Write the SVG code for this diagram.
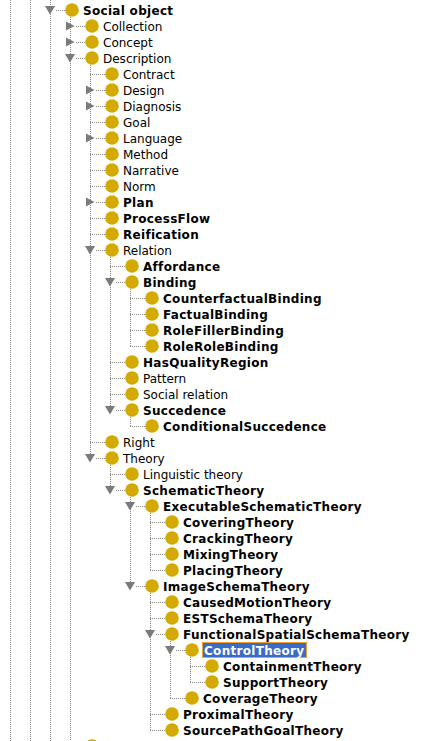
<svg xmlns="http://www.w3.org/2000/svg" width="422" height="741" viewBox="0 0 422 741">
<style>
  .bg{fill:#ffffff}
  .dot{stroke:#8a8a8a;stroke-width:1;stroke-dasharray:1 1;fill:none}
  .tri{fill:#7a7a7a}
  circle{fill:#d4a900}
  text{font-family:"DejaVu Sans","Noto Sans",sans-serif;font-size:12px;fill:#000}
  .b{font-weight:bold;letter-spacing:0.3px}
  .sel{fill:#3a6bc6;stroke:#f0a030;stroke-width:1}
  .selt{fill:#ffffff}
</style>
<rect class="bg" x="0" y="0" width="422" height="741"/>
<g id="connectors">
  <line class="dot" x1="10.5" y1="0" x2="10.5" y2="741"/>
  <line class="dot" x1="30.5" y1="0" x2="30.5" y2="741"/>
  <line class="dot" x1="50.5" y1="0" x2="50.5" y2="741"/>
  <line class="dot" x1="70.5" y1="15" x2="70.5" y2="741"/>
  <line class="dot" x1="90.5" y1="63" x2="90.5" y2="458"/>
  <line class="dot" x1="110.5" y1="255" x2="110.5" y2="410"/>
  <line class="dot" x1="130.5" y1="287" x2="130.5" y2="346"/>
  <line class="dot" x1="130.5" y1="415" x2="130.5" y2="426"/>
  <line class="dot" x1="110.5" y1="463" x2="110.5" y2="490"/>
  <line class="dot" x1="130.5" y1="495" x2="130.5" y2="586"/>
  <line class="dot" x1="150.5" y1="511" x2="150.5" y2="570"/>
  <line class="dot" x1="150.5" y1="591" x2="150.5" y2="730"/>
  <line class="dot" x1="170.5" y1="639" x2="170.5" y2="698"/>
  <line class="dot" x1="190.5" y1="655" x2="190.5" y2="682"/>
  <line class="dot" x1="56" y1="10.5" x2="65" y2="10.5"/>
  <line class="dot" x1="76" y1="26.5" x2="85" y2="26.5"/>
  <line class="dot" x1="76" y1="42.5" x2="85" y2="42.5"/>
  <line class="dot" x1="76" y1="58.5" x2="85" y2="58.5"/>
  <line class="dot" x1="90" y1="74.5" x2="105" y2="74.5"/>
  <line class="dot" x1="96" y1="90.5" x2="105" y2="90.5"/>
  <line class="dot" x1="96" y1="106.5" x2="105" y2="106.5"/>
  <line class="dot" x1="90" y1="122.5" x2="105" y2="122.5"/>
  <line class="dot" x1="96" y1="138.5" x2="105" y2="138.5"/>
  <line class="dot" x1="90" y1="154.5" x2="105" y2="154.5"/>
  <line class="dot" x1="90" y1="170.5" x2="105" y2="170.5"/>
  <line class="dot" x1="90" y1="186.5" x2="105" y2="186.5"/>
  <line class="dot" x1="96" y1="202.5" x2="105" y2="202.5"/>
  <line class="dot" x1="90" y1="218.5" x2="105" y2="218.5"/>
  <line class="dot" x1="90" y1="234.5" x2="105" y2="234.5"/>
  <line class="dot" x1="96" y1="250.5" x2="105" y2="250.5"/>
  <line class="dot" x1="110" y1="266.5" x2="125" y2="266.5"/>
  <line class="dot" x1="116" y1="282.5" x2="125" y2="282.5"/>
  <line class="dot" x1="130" y1="298.5" x2="145" y2="298.5"/>
  <line class="dot" x1="130" y1="314.5" x2="145" y2="314.5"/>
  <line class="dot" x1="130" y1="330.5" x2="145" y2="330.5"/>
  <line class="dot" x1="130" y1="346.5" x2="145" y2="346.5"/>
  <line class="dot" x1="110" y1="362.5" x2="125" y2="362.5"/>
  <line class="dot" x1="110" y1="378.5" x2="125" y2="378.5"/>
  <line class="dot" x1="110" y1="394.5" x2="125" y2="394.5"/>
  <line class="dot" x1="116" y1="410.5" x2="125" y2="410.5"/>
  <line class="dot" x1="130" y1="426.5" x2="145" y2="426.5"/>
  <line class="dot" x1="90" y1="442.5" x2="105" y2="442.5"/>
  <line class="dot" x1="96" y1="458.5" x2="105" y2="458.5"/>
  <line class="dot" x1="110" y1="474.5" x2="125" y2="474.5"/>
  <line class="dot" x1="116" y1="490.5" x2="125" y2="490.5"/>
  <line class="dot" x1="136" y1="506.5" x2="145" y2="506.5"/>
  <line class="dot" x1="150" y1="522.5" x2="165" y2="522.5"/>
  <line class="dot" x1="150" y1="538.5" x2="165" y2="538.5"/>
  <line class="dot" x1="150" y1="554.5" x2="165" y2="554.5"/>
  <line class="dot" x1="150" y1="570.5" x2="165" y2="570.5"/>
  <line class="dot" x1="136" y1="586.5" x2="145" y2="586.5"/>
  <line class="dot" x1="150" y1="602.5" x2="165" y2="602.5"/>
  <line class="dot" x1="150" y1="618.5" x2="165" y2="618.5"/>
  <line class="dot" x1="156" y1="634.5" x2="165" y2="634.5"/>
  <line class="dot" x1="176" y1="650.5" x2="185" y2="650.5"/>
  <line class="dot" x1="190" y1="666.5" x2="205" y2="666.5"/>
  <line class="dot" x1="190" y1="682.5" x2="205" y2="682.5"/>
  <line class="dot" x1="170" y1="698.5" x2="185" y2="698.5"/>
  <line class="dot" x1="150" y1="714.5" x2="165" y2="714.5"/>
  <line class="dot" x1="150" y1="730.5" x2="165" y2="730.5"/>
</g>
<g id="n-social-object"><polygon class="tri" points="45,6 55,6 50,14.5"/><circle cx="72" cy="10" r="6.8"/><text x="83" y="14.5" class="b">Social object</text></g>
<g id="n-collection"><polygon class="tri" points="66,21.5 66,30.5 74.5,26"/><circle cx="92" cy="26" r="6.8"/><text x="103" y="30.5">Collection</text></g>
<g id="n-concept"><polygon class="tri" points="66,37.5 66,46.5 74.5,42"/><circle cx="92" cy="42" r="6.8"/><text x="103" y="46.5">Concept</text></g>
<g id="n-description"><polygon class="tri" points="65,54 75,54 70,62.5"/><circle cx="92" cy="58" r="6.8"/><text x="103" y="62.5">Description</text></g>
<g id="n-contract"><circle cx="112" cy="74" r="6.8"/><text x="123" y="78.5">Contract</text></g>
<g id="n-design"><polygon class="tri" points="86,85.5 86,94.5 94.5,90"/><circle cx="112" cy="90" r="6.8"/><text x="123" y="94.5">Design</text></g>
<g id="n-diagnosis"><polygon class="tri" points="86,101.5 86,110.5 94.5,106"/><circle cx="112" cy="106" r="6.8"/><text x="123" y="110.5">Diagnosis</text></g>
<g id="n-goal"><circle cx="112" cy="122" r="6.8"/><text x="123" y="126.5">Goal</text></g>
<g id="n-language"><polygon class="tri" points="86,133.5 86,142.5 94.5,138"/><circle cx="112" cy="138" r="6.8"/><text x="123" y="142.5">Language</text></g>
<g id="n-method"><circle cx="112" cy="154" r="6.8"/><text x="123" y="158.5">Method</text></g>
<g id="n-narrative"><circle cx="112" cy="170" r="6.8"/><text x="123" y="174.5">Narrative</text></g>
<g id="n-norm"><circle cx="112" cy="186" r="6.8"/><text x="123" y="190.5">Norm</text></g>
<g id="n-plan"><polygon class="tri" points="86,197.5 86,206.5 94.5,202"/><circle cx="112" cy="202" r="6.8"/><text x="123" y="206.5" class="b">Plan</text></g>
<g id="n-processflow"><circle cx="112" cy="218" r="6.8"/><text x="123" y="222.5" class="b">ProcessFlow</text></g>
<g id="n-reification"><circle cx="112" cy="234" r="6.8"/><text x="123" y="238.5" class="b">Reification</text></g>
<g id="n-relation"><polygon class="tri" points="85,246 95,246 90,254.5"/><circle cx="112" cy="250" r="6.8"/><text x="123" y="254.5">Relation</text></g>
<g id="n-affordance"><circle cx="132" cy="266" r="6.8"/><text x="143" y="270.5" class="b">Affordance</text></g>
<g id="n-binding"><polygon class="tri" points="105,278 115,278 110,286.5"/><circle cx="132" cy="282" r="6.8"/><text x="143" y="286.5" class="b">Binding</text></g>
<g id="n-counterfactualbinding"><circle cx="152" cy="298" r="6.8"/><text x="163" y="302.5" class="b">CounterfactualBinding</text></g>
<g id="n-factualbinding"><circle cx="152" cy="314" r="6.8"/><text x="163" y="318.5" class="b">FactualBinding</text></g>
<g id="n-rolefillerbinding"><circle cx="152" cy="330" r="6.8"/><text x="163" y="334.5" class="b">RoleFillerBinding</text></g>
<g id="n-rolerolebinding"><circle cx="152" cy="346" r="6.8"/><text x="163" y="350.5" class="b">RoleRoleBinding</text></g>
<g id="n-hasqualityregion"><circle cx="132" cy="362" r="6.8"/><text x="143" y="366.5" class="b">HasQualityRegion</text></g>
<g id="n-pattern"><circle cx="132" cy="378" r="6.8"/><text x="143" y="382.5">Pattern</text></g>
<g id="n-social-relation"><circle cx="132" cy="394" r="6.8"/><text x="143" y="398.5">Social relation</text></g>
<g id="n-succedence"><polygon class="tri" points="105,406 115,406 110,414.5"/><circle cx="132" cy="410" r="6.8"/><text x="143" y="414.5" class="b">Succedence</text></g>
<g id="n-conditionalsuccedence"><circle cx="152" cy="426" r="6.8"/><text x="163" y="430.5" class="b">ConditionalSuccedence</text></g>
<g id="n-right"><circle cx="112" cy="442" r="6.8"/><text x="123" y="446.5">Right</text></g>
<g id="n-theory"><polygon class="tri" points="85,454 95,454 90,462.5"/><circle cx="112" cy="458" r="6.8"/><text x="123" y="462.5">Theory</text></g>
<g id="n-linguistic-theory"><circle cx="132" cy="474" r="6.8"/><text x="143" y="478.5">Linguistic theory</text></g>
<g id="n-schematictheory"><polygon class="tri" points="105,486 115,486 110,494.5"/><circle cx="132" cy="490" r="6.8"/><text x="143" y="494.5" class="b">SchematicTheory</text></g>
<g id="n-executableschematictheory"><polygon class="tri" points="125,502 135,502 130,510.5"/><circle cx="152" cy="506" r="6.8"/><text x="163" y="510.5" class="b">ExecutableSchematicTheory</text></g>
<g id="n-coveringtheory"><circle cx="172" cy="522" r="6.8"/><text x="183" y="526.5" class="b">CoveringTheory</text></g>
<g id="n-crackingtheory"><circle cx="172" cy="538" r="6.8"/><text x="183" y="542.5" class="b">CrackingTheory</text></g>
<g id="n-mixingtheory"><circle cx="172" cy="554" r="6.8"/><text x="183" y="558.5" class="b">MixingTheory</text></g>
<g id="n-placingtheory"><circle cx="172" cy="570" r="6.8"/><text x="183" y="574.5" class="b">PlacingTheory</text></g>
<g id="n-imageschematheory"><polygon class="tri" points="125,582 135,582 130,590.5"/><circle cx="152" cy="586" r="6.8"/><text x="163" y="590.5" class="b">ImageSchemaTheory</text></g>
<g id="n-causedmotiontheory"><circle cx="172" cy="602" r="6.8"/><text x="183" y="606.5" class="b">CausedMotionTheory</text></g>
<g id="n-estschematheory"><circle cx="172" cy="618" r="6.8"/><text x="183" y="622.5" class="b">ESTSchemaTheory</text></g>
<g id="n-functionalspatialschematheory"><polygon class="tri" points="145,630 155,630 150,638.5"/><circle cx="172" cy="634" r="6.8"/><text x="183" y="638.5" class="b">FunctionalSpatialSchemaTheory</text></g>
<g id="n-controltheory"><polygon class="tri" points="165,646 175,646 170,654.5"/><circle cx="192" cy="650" r="6.8"/><rect class="sel" x="202.5" y="642.5" width="104" height="15"/><text x="204" y="654.5" class="b selt">ControlTheory</text></g>
<g id="n-containmenttheory"><circle cx="212" cy="666" r="6.8"/><text x="223" y="670.5" class="b">ContainmentTheory</text></g>
<g id="n-supporttheory"><circle cx="212" cy="682" r="6.8"/><text x="223" y="686.5" class="b">SupportTheory</text></g>
<g id="n-coveragetheory"><circle cx="192" cy="698" r="6.8"/><text x="203" y="702.5" class="b">CoverageTheory</text></g>
<g id="n-proximaltheory"><circle cx="172" cy="714" r="6.8"/><text x="183" y="718.5" class="b">ProximalTheory</text></g>
<g id="n-sourcepathgoaltheory"><circle cx="172" cy="730" r="6.8"/><text x="183" y="734.5" class="b">SourcePathGoalTheory</text></g>
<g id="n-next"><circle cx="92" cy="746" r="6.8"/></g>
</svg>
